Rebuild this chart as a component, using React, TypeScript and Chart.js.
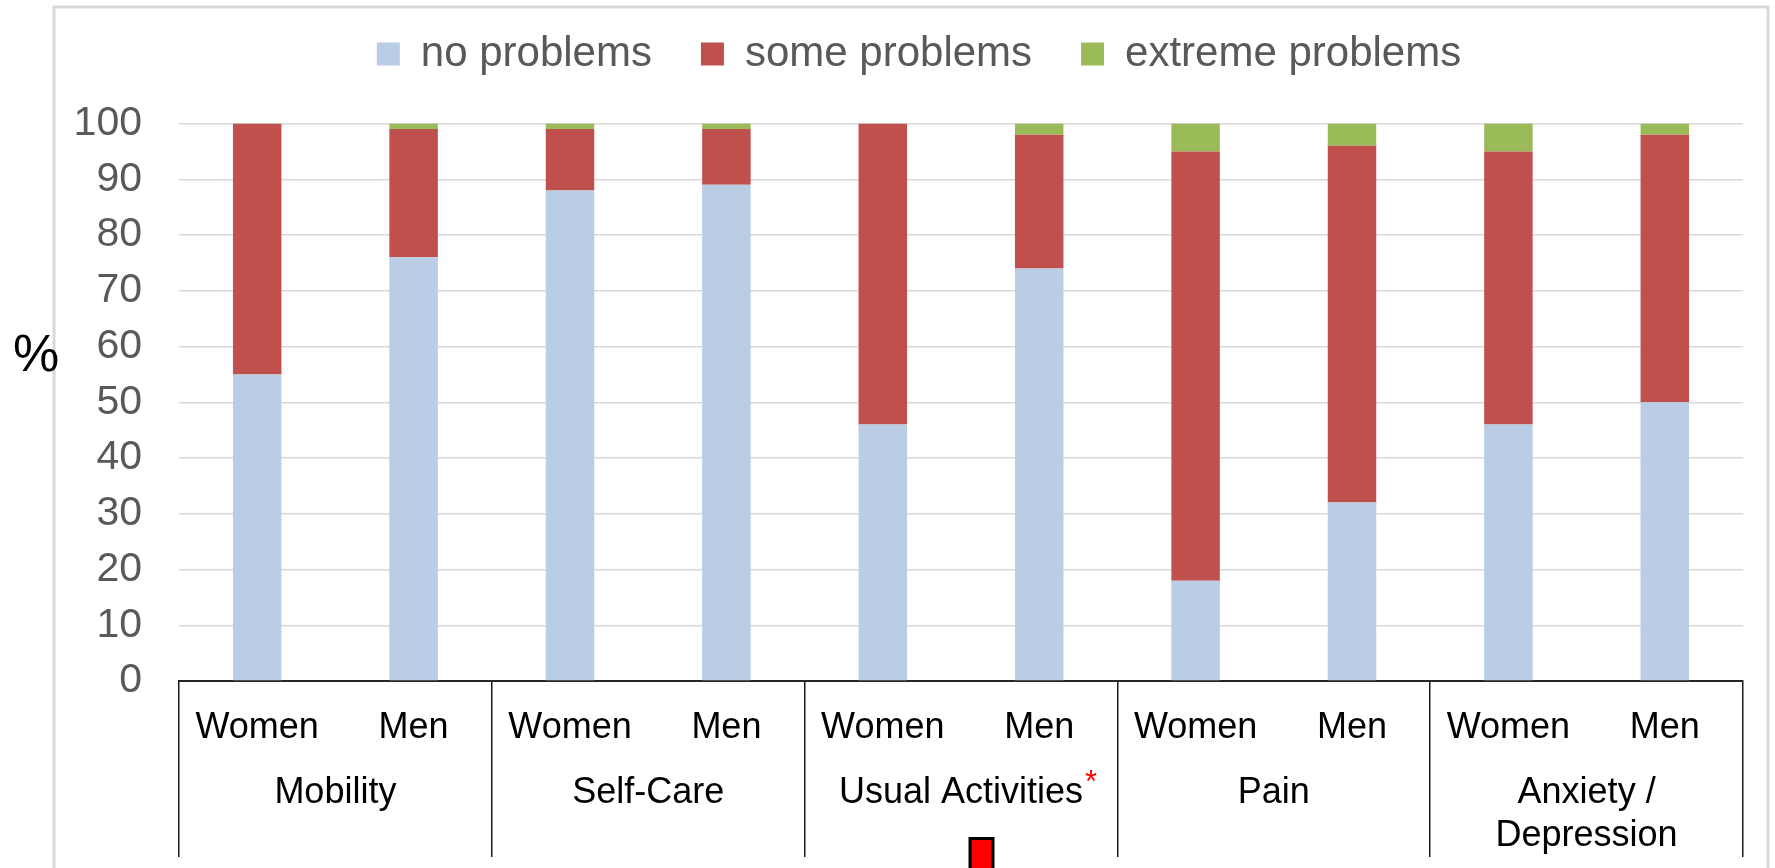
import React, { useEffect, useRef } from 'react';
import Chart from 'chart.js/auto';

const FONT = "'Liberation Sans', Arial, sans-serif";

const subLabels = ['Women', 'Men', 'Women', 'Men', 'Women', 'Men', 'Women', 'Men', 'Women', 'Men'];
const groupLabels: (string | string[])[] = ['Mobility', 'Self-Care', 'Usual Activities', 'Pain', ['Anxiety /', 'Depression']];
const seriesNames = ['no problems', 'some problems', 'extreme problems'];
const seriesColors = ['#B9CDE5', '#C0504D', '#9BBB59'];
const noProblems = [55, 76, 88, 89, 46, 74, 18, 32, 46, 50];
const someProblems = [45, 23, 11, 10, 54, 24, 77, 64, 49, 48];
const extremeProblems = [0, 1, 1, 1, 0, 2, 5, 4, 5, 2];
const yMin = 0;
const yMax = 100;
const yStep = 10;
const yAxisTitle = '%';
const flaggedGroup = 2;

const decorPlugin = {
  id: 'decor',
  beforeDraw(chart: any) {
    const ctx = chart.ctx;
    ctx.save();
    ctx.strokeStyle = '#d9d9d9';
    ctx.lineWidth = 3;
    ctx.beginPath();
    ctx.moveTo(54, chart.height + 5);
    ctx.lineTo(54, 7);
    ctx.lineTo(1768, 7);
    ctx.lineTo(1768, chart.height + 5);
    ctx.stroke();
    ctx.restore();
  },
  afterDraw(chart: any) {
    const ctx = chart.ctx;
    const x2 = chart.scales.x2;
    ctx.save();
    ctx.fillStyle = '#000';
    ctx.font = `52px ${FONT}`;
    ctx.textAlign = 'center';
    ctx.textBaseline = 'middle';
    ctx.fillText(yAxisTitle, 36, 357);
    const cx = x2.getPixelForValue(flaggedGroup);
    ctx.font = `36px ${FONT}`;
    const w = ctx.measureText(groupLabels[flaggedGroup] as string).width;
    ctx.font = `31px ${FONT}`;
    ctx.fillStyle = '#FF0000';
    ctx.textAlign = 'left';
    ctx.textBaseline = 'alphabetic';
    ctx.fillText('*', cx + w / 2 + 2, 792);
    ctx.fillStyle = '#FF0000';
    ctx.strokeStyle = '#000';
    ctx.lineWidth = 3;
    ctx.fillRect(cx + 9, 838.5, 23, 40);
    ctx.strokeRect(cx + 9, 838.5, 23, 40);
    ctx.restore();
  },
};

export default function App() {
  const canvasRef = useRef<HTMLCanvasElement | null>(null);

  useEffect(() => {
    document.body.style.overflow = 'hidden';
    const canvas = canvasRef.current;
    if (!canvas) return;
    const values = [noProblems, someProblems, extremeProblems];
    const chart = new Chart(canvas, {
      type: 'bar',
      data: {
        labels: subLabels,
        datasets: seriesNames.map((name, i) => ({
          label: name,
          data: values[i],
          backgroundColor: seriesColors[i],
          borderWidth: 0,
          categoryPercentage: 1,
          barPercentage: 0.31,
        })),
      },
      options: {
        responsive: false,
        animation: false,
        layout: { padding: { left: 63, right: 0, top: -16, bottom: 0 } },
        plugins: {
          tooltip: { enabled: false },
          legend: {
            position: 'top',
            labels: {
              boxWidth: 23,
              boxHeight: 23,
              padding: 49,
              color: '#595959',
              font: { family: FONT, size: 42 },
            },
          },
          subtitle: {
            display: true,
            text: '',
            weight: 500,
            padding: 0,
            font: { size: 38.5, lineHeight: 1 },
          },
        },
        scales: {
          x: {
            stacked: true,
            position: 'bottom',
            weight: 0,
            offset: true,
            grid: {
              display: true,
              offset: true,
              drawOnChartArea: false,
              drawTicks: true,
              tickLength: 176,
              lineWidth: 1.5,
              color: (c: any) => (c.type !== 'tick' || c.index % 2 === 0 ? '#1a1a1a' : 'rgba(0,0,0,0)'),
            },
            border: { display: true, color: '#262626', width: 2 },
            ticks: {
              color: '#000',
              font: { family: FONT, size: 36 },
              padding: -151,
              autoSkip: false,
              maxRotation: 0,
              minRotation: 0,
            },
            afterFit: (s: any) => {
              s.height = 80;
            },
          },
          x2: {
            type: 'category',
            labels: groupLabels as any,
            position: 'bottom',
            weight: 1,
            offset: true,
            grid: { display: false, drawTicks: false },
            border: { display: false },
            ticks: {
              color: '#000',
              font: { family: FONT, size: 36 },
              padding: 10,
              autoSkip: false,
              maxRotation: 0,
              minRotation: 0,
            },
            afterFit: (s: any) => {
              s.height = 107;
            },
          },
          y: {
            stacked: true,
            min: yMin,
            max: yMax,
            ticks: {
              stepSize: yStep,
              color: '#595959',
              font: { family: FONT, size: 41 },
              padding: 37,
            },
            grid: { color: '#d9d9d9', lineWidth: 1.5, drawTicks: false },
            border: { display: false },
            afterFit: (s: any) => {
              s.width = 116;
            },
          },
          yRight: {
            position: 'right',
            display: true,
            grid: { display: false, drawTicks: false },
            border: { display: false },
            ticks: { display: false },
            afterFit: (s: any) => {
              s.width = 32;
            },
          },
        },
      },
      plugins: [decorPlugin],
    });
    return () => chart.destroy();
  }, []);

  return (
    <div style={{ position: 'absolute', left: 0, top: 0, width: 1775, height: 868, background: '#fff' }}>
      <canvas ref={canvasRef} width={1775} height={868} style={{ display: 'block' }} />
    </div>
  );
}
